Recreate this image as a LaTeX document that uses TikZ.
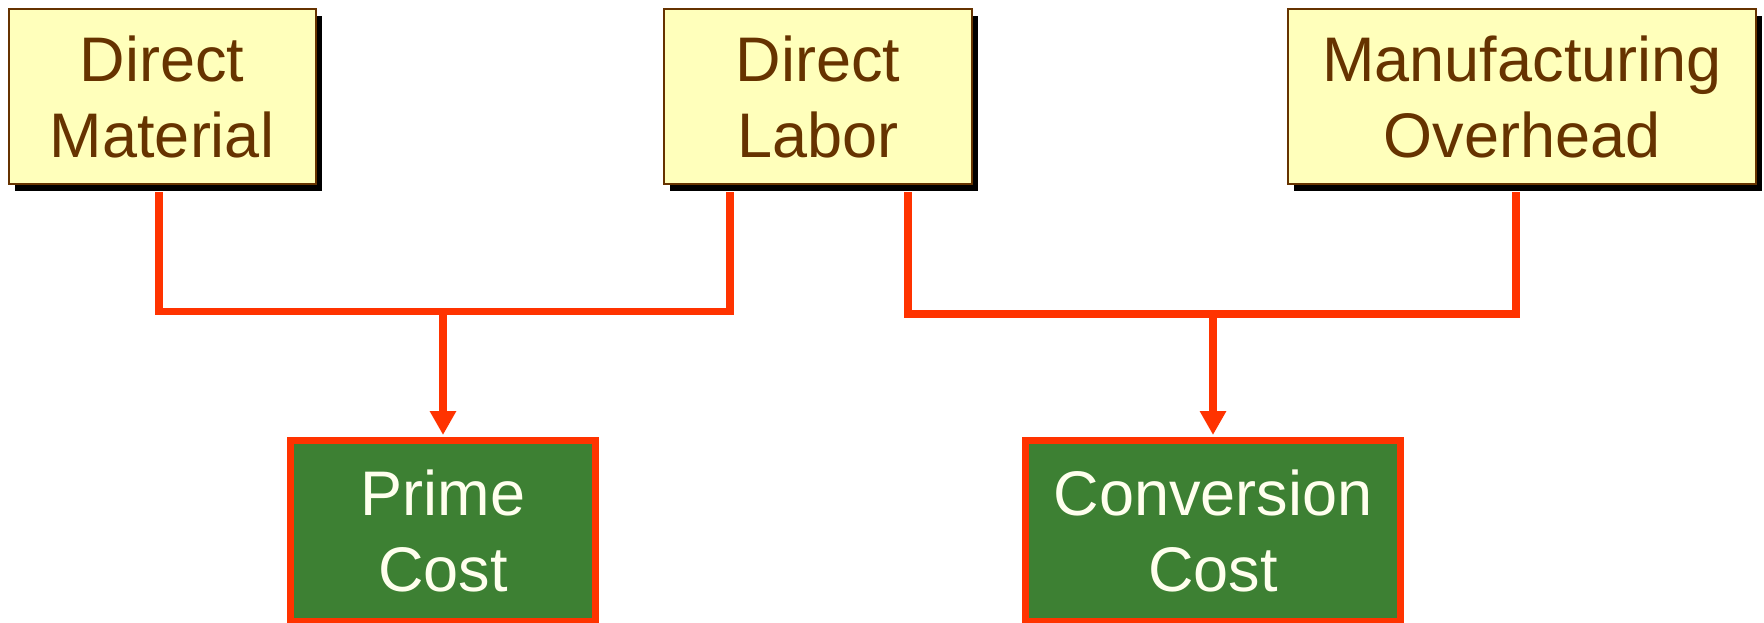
\documentclass[tikz,border=0pt]{standalone}
\usepackage{fontspec}
\setmainfont{Liberation Sans}
\usetikzlibrary{arrows.meta,shadows}
\definecolor{boxfill}{HTML}{FFFFBB}
\definecolor{txtbrown}{HTML}{663300}
\definecolor{linered}{HTML}{FF3300}
\definecolor{boxgreen}{HTML}{3D8033}
\definecolor{cream}{HTML}{FFFFEE}
\begin{document}
\begin{tikzpicture}[x=0.5pt,y=-0.5pt,
  costin/.style={draw=txtbrown, line width=1pt, fill=boxfill, text=txtbrown,
    align=center, font=\fontsize{31.5}{38}\selectfont, inner sep=0pt,
    minimum height=87.5pt,
    drop shadow={shadow xshift=3pt, shadow yshift=-3.5pt, fill=black, opacity=1}},
  result/.style={draw=linered, line width=3.5pt, fill=boxgreen, text=cream,
    align=center, font=\fontsize{31.5}{38}\selectfont, inner sep=0pt,
    minimum height=90.5pt},
  conn/.style={draw=linered, line width=3.6pt, line join=miter},
  arrowconn/.style={conn, -{Triangle[width=12.5pt,length=12pt]}}]
\useasboundingbox (0,0) rectangle (1764,622);

\node[costin, minimum width=153.5pt] (DM) at (162,96.5) {Direct\\Material};
\node[costin, minimum width=154pt] (DL) at (818,96.5) {Direct\\Labor};
\node[costin, minimum width=234pt] (MO) at (1522,96.5) {Manufacturing\\Overhead};

\node[result, minimum width=152.5pt] (PC) at (443,531) {Prime\\Cost};
\node[result, minimum width=187.5pt] (CC) at (1213,531) {Conversion\\Cost};

\coordinate (j1) at (443,311.5);
\coordinate (j2) at (1213,314);

\draw[conn] ([xshift=-1.5pt,yshift=-3.5pt]DM.south) |- (j1)
  -| ([xshift=-44pt,yshift=-3.5pt]DL.south);
\draw[arrowconn] (j1) -- ([yshift=1pt]PC.north);

\draw[conn] ([xshift=45pt,yshift=-3.5pt]DL.south) |- (j2)
  -| ([xshift=-3pt,yshift=-3.5pt]MO.south);
\draw[arrowconn] (j2) -- ([yshift=1pt]CC.north);
\end{tikzpicture}
\end{document}
